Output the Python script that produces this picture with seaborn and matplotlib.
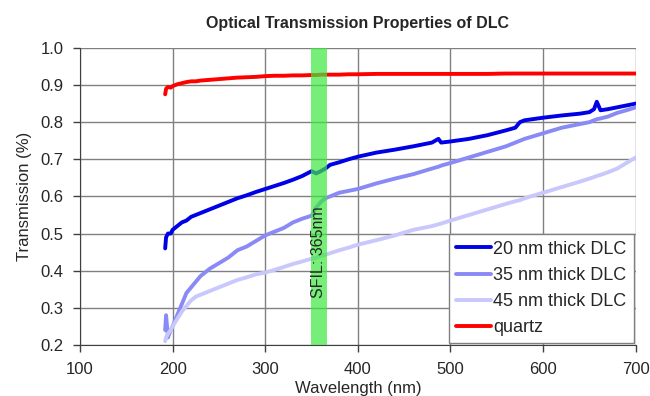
import matplotlib
matplotlib.use("Agg")
import matplotlib.pyplot as plt
import numpy as np
import pandas as pd
import seaborn as sns

# wavelengths (nm) and transmission values
wl = [192, 193, 195, 198, 200, 205, 210, 215, 220, 225, 230, 240, 250, 260, 270,
      280, 290, 300, 310, 320, 330, 340, 350, 355, 360, 365, 370, 380, 390, 400,
      420, 440, 460, 480, 487, 490, 500, 520, 540, 560, 570, 575, 580, 600, 620,
      640, 650, 655, 658, 662, 670, 680, 690, 700]

dlc20 = [0.46, 0.49, 0.50, 0.50, 0.51, 0.52, 0.53, 0.535, 0.545, 0.55, 0.555, 0.565,
         0.575, 0.585, 0.595, 0.603, 0.612, 0.62, 0.628, 0.636, 0.645, 0.655, 0.668,
         0.662, 0.668, 0.675, 0.685, 0.692, 0.70, 0.707, 0.718, 0.726, 0.735, 0.745,
         0.755, 0.745, 0.748, 0.755, 0.765, 0.778, 0.785, 0.80, 0.805, 0.812, 0.818,
         0.823, 0.827, 0.835, 0.855, 0.832, 0.835, 0.84, 0.845, 0.85]

dlc35 = [0.24, 0.28, 0.22, 0.24, 0.25, 0.28, 0.31, 0.34, 0.355, 0.37, 0.385, 0.405,
         0.42, 0.435, 0.455, 0.465, 0.48, 0.495, 0.505, 0.515, 0.53, 0.54, 0.548,
         0.57, 0.585, 0.595, 0.60, 0.61, 0.615, 0.62, 0.635, 0.648, 0.66, 0.675,
         0.68, 0.683, 0.69, 0.705, 0.72, 0.735, 0.745, 0.75, 0.755, 0.77, 0.785,
         0.795, 0.80, 0.805, 0.808, 0.81, 0.815, 0.825, 0.832, 0.84]

dlc45 = [0.21, 0.22, 0.23, 0.24, 0.25, 0.27, 0.29, 0.305, 0.32, 0.33, 0.335, 0.345,
         0.355, 0.365, 0.375, 0.382, 0.39, 0.395, 0.402, 0.41, 0.418, 0.425, 0.432,
         0.435, 0.44, 0.443, 0.447, 0.455, 0.462, 0.47, 0.482, 0.495, 0.51, 0.52,
         0.525, 0.527, 0.535, 0.55, 0.565, 0.58, 0.587, 0.59, 0.595, 0.61, 0.625,
         0.64, 0.648, 0.652, 0.655, 0.658, 0.665, 0.675, 0.69, 0.705]

quartz = [0.875, 0.89, 0.895, 0.893, 0.897, 0.902, 0.905, 0.908, 0.91, 0.91, 0.912,
          0.914, 0.916, 0.918, 0.92, 0.921, 0.922, 0.924, 0.925, 0.925, 0.926, 0.926,
          0.927, 0.927, 0.928, 0.928, 0.928, 0.928, 0.929, 0.929, 0.93, 0.93, 0.93,
          0.93, 0.93, 0.93, 0.93, 0.93, 0.93, 0.931, 0.931, 0.931, 0.931, 0.931,
          0.931, 0.931, 0.931, 0.931, 0.931, 0.931, 0.931, 0.931, 0.931, 0.931]

names = ['20 nm thick DLC', '35 nm thick DLC', '45 nm thick DLC', 'quartz']
colors = ['#0000e6', '#8a8af6', '#c8c8fc', '#ff0000']

rows = []
for name, vals in zip(names, [dlc20, dlc35, dlc45, quartz]):
    for x, y in zip(wl, vals):
        rows.append((name, x, y))
df = pd.DataFrame(rows, columns=['sample', 'wavelength', 'transmission'])

sns.set_style('white')
plt.rcParams['font.family'] = ['Liberation Sans', 'DejaVu Sans']

fig = plt.figure(figsize=(6.5, 3.96), dpi=100)
ax = fig.add_axes([0.123, 0.129, 0.855, 0.75])

sns.lineplot(data=df, x='wavelength', y='transmission', hue='sample',
             hue_order=names, palette=colors, lw=2.8, ax=ax, zorder=2)
# highlight band drawn over the curves
ax.axvspan(349, 367, color='#3ee83e', alpha=0.7, zorder=3, lw=0)

ax.text(358, 0.45, 'SFIL: 365nm', rotation=90, ha='center', va='center',
        fontsize=11.5, zorder=4)

ax.set_xlim(100, 700)
ax.set_ylim(0.2, 1.0)
ax.set_xticks(np.arange(100, 701, 100))
ax.set_yticks(np.arange(0.2, 1.01, 0.1))
ax.set_yticklabels(['%.1f' % v for v in np.arange(0.2, 1.01, 0.1)])
ax.grid(True, color='#808080', lw=1)
ax.set_axisbelow(True)
for s in ['top', 'right']:
    ax.spines[s].set_visible(False)
for s in ['left', 'bottom']:
    ax.spines[s].set_color('#404040')
ax.tick_params(axis='both', direction='out', length=5, width=1, color='#404040',
               labelsize=12, bottom=True, left=True, pad=7)

ax.set_xlabel('Wavelength (nm)', fontsize=12, labelpad=3)
ax.set_ylabel('Transmission (%)', fontsize=12, labelpad=6)
ax.set_title('Optical Transmission Properties of DLC', fontsize=11.5,
             fontweight='bold', pad=14)

leg = ax.legend(loc='lower right', frameon=True, fontsize=13, fancybox=False,
                borderaxespad=0.1, handlelength=1.9, handletextpad=0.15,
                labelspacing=0.5, borderpad=0.4)
leg.get_frame().set_edgecolor('#808080')
leg.get_frame().set_alpha(1)
leg.set_zorder(5)

fig.savefig('out.png', dpi=100)
